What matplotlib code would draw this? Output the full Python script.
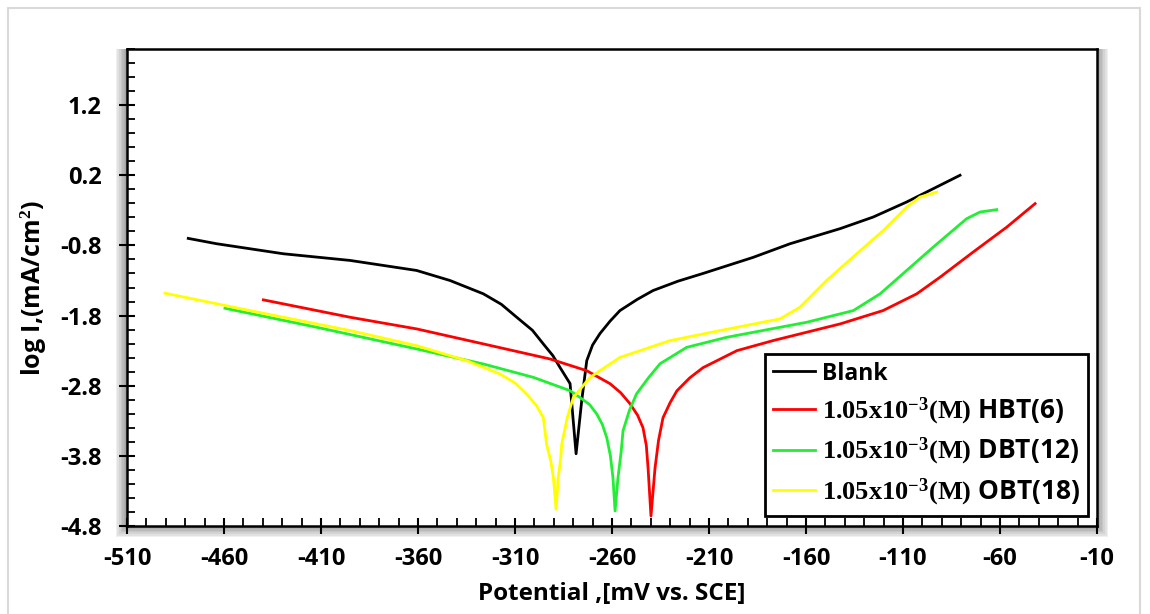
import matplotlib
matplotlib.use("Agg")
import matplotlib.pyplot as plt
from matplotlib.patches import Rectangle
from matplotlib.ticker import MultipleLocator

plt.rcParams['font.family'] = ['Open Sans', 'DejaVu Sans']
plt.rcParams['font.weight'] = 'bold'
plt.rcParams['axes.unicode_minus'] = False
plt.rcParams['mathtext.fontset'] = 'custom'
plt.rcParams['mathtext.rm'] = 'Liberation Serif'
plt.rcParams['mathtext.bf'] = 'Liberation Serif:bold'
plt.rcParams['mathtext.it'] = 'Liberation Serif:italic'

# potential (mV vs SCE) and log I (mA/cm2)
blank_e = [-478.4, -463.8, -429.4, -395.0, -360.7, -343.5, -326.3, -317.0, -309.1,
           -301.0, -295.4, -290.5, -286.8, -281.6, -280.1, -278.5, -275.6, -273.0,
           -270.0, -266.2, -261.0, -255.9, -247.0, -238.8, -226.0, -213.1, -187.3,
           -168.2, -142.4, -125.4, -108.1, -90.9, -80.6]
blank_i = [-0.70, -0.776, -0.919, -1.014, -1.157, -1.30, -1.49, -1.64, -1.824,
           -2.01, -2.204, -2.37, -2.539, -2.77, -3.257, -3.77, -3.014, -2.443,
           -2.22, -2.057, -1.88, -1.729, -1.57, -1.443, -1.31, -1.20, -0.971,
           -0.776, -0.561, -0.396, -0.181, 0.057, 0.20]

hbt_e = [-439.7, -395.0, -360.7, -326.3, -291.9, -273.0, -261.0, -255.5, -250.7,
         -246.8, -244.0, -242.3, -241.4, -239.9, -237.8, -236.0, -233.7, -230.0,
         -226.5, -220.0, -213.1, -195.6, -177.0, -142.4, -120.3, -102.9, -90.9,
         -73.9, -56.5, -41.9]
hbt_i = [-1.576, -1.824, -1.99, -2.204, -2.419, -2.586, -2.771, -2.90, -3.057,
         -3.22, -3.40, -3.65, -3.971, -4.657, -3.971, -3.58, -3.257, -3.04,
         -2.871, -2.69, -2.543, -2.30, -2.157, -1.919, -1.729, -1.49, -1.253,
         -0.896, -0.539, -0.204]

dbt_e = [-459.5, -412.2, -360.7, -326.3, -300.5, -281.6, -276.5, -271.5, -267.9,
         -265.0, -262.7, -260.8, -259.5, -258.4, -256.9, -255.3, -254.3, -251.0,
         -247.3, -241.0, -235.2, -221.5, -200.9, -173.4, -159.7, -135.6, -121.8,
         -108.1, -94.4, -77.2, -70.3, -61.7]
dbt_i = [-1.696, -1.967, -2.276, -2.49, -2.681, -2.871, -2.967, -3.07, -3.20,
         -3.35, -3.539, -3.80, -4.11, -4.586, -4.11, -3.75, -3.443, -3.15,
         -2.914, -2.68, -2.486, -2.253, -2.11, -1.967, -1.896, -1.729, -1.49,
         -1.157, -0.824, -0.419, -0.324, -0.29]

obt_e = [-490.4, -446.6, -395.0, -360.7, -334.9, -317.7, -310.0, -304.0, -299.0,
         -295.4, -293.7, -291.5, -290.2, -288.8, -287.7, -286.5, -285.9, -283.0,
         -279.9, -271.3, -255.9, -230.1, -204.3, -173.4, -163.1, -149.4, -133.9,
         -120.1, -108.1, -101.2, -92.6]
obt_i = [-1.481, -1.729, -2.014, -2.229, -2.443, -2.633, -2.76, -2.919, -3.08,
         -3.253, -3.633, -3.88, -4.11, -4.561, -4.11, -3.85, -3.633, -3.25,
         -2.967, -2.681, -2.396, -2.157, -2.014, -1.847, -1.681, -1.30, -0.919,
         -0.586, -0.253, -0.11, -0.039]

labels = ['Blank',
          r'$\mathbf{1.05x10^{-3}(M)}$ HBT(6)',
          r'$\mathbf{1.05x10^{-3}(M)}$ DBT(12)',
          r'$\mathbf{1.05x10^{-3}(M)}$ OBT(18)']
colors = ['black', '#ff0000', '#22ee33', '#ffff00']

fig = plt.figure(figsize=(11.5, 6.14), dpi=100)
ax = fig.add_axes([0.1104, 0.1433, 0.8435, 0.7769])
ax.set_facecolor('white')

# outer frame and soft shadow round the plot box
fig.patches.append(Rectangle((8 / 1150, -0.05), 1132 / 1150, 1 - 8 / 614 + 0.05,
                             transform=fig.transFigure, fill=False,
                             edgecolor='#d9d9d9', lw=1.5, zorder=-2))
for k in range(1, 8):
    pad = k * 1.6
    fig.patches.append(Rectangle(((127 - pad) / 1150, (88 - pad) / 614),
                                 (970 + 2 * pad) / 1150, (477 + pad) / 614,
                                 transform=fig.transFigure, facecolor='black',
                                 alpha=0.06, edgecolor='none', zorder=-1))

series = [(blank_e, blank_i), (hbt_e, hbt_i), (dbt_e, dbt_i), (obt_e, obt_i)]
for (e, i), c, lab in zip(series, colors, labels):
    ax.plot(e, i, color=c, lw=2.0, label=lab)

ax.set_xlim(-510, -10)
ax.set_ylim(-4.8, 2.0)
ax.set_xticks(range(-510, 0, 50))
ax.set_yticks([-4.8, -3.8, -2.8, -1.8, -0.8, 0.2, 1.2])
ax.xaxis.set_minor_locator(MultipleLocator(10))
ax.yaxis.set_minor_locator(MultipleLocator(0.2))
ax.tick_params(which='major', direction='inout', length=12, width=1.5,
               labelsize=17, top=False, right=False)
ax.tick_params(axis='x', which='major', pad=9)
ax.tick_params(axis='y', which='major', pad=12)
ax.tick_params(which='minor', direction='in', length=6, width=1.3,
               top=False, right=False)
for lab in ax.get_xticklabels() + ax.get_yticklabels():
    lab.set_fontweight('bold')
for s in ax.spines.values():
    s.set_linewidth(1.8)

ax.set_xlabel('Potential ,[mV vs. SCE]', fontsize=17.5, fontweight='bold', labelpad=8)
ax.set_ylabel('log I,(mA/cm$^2$)', fontsize=18, fontweight='bold', labelpad=8)

leg = ax.legend(loc='lower right', bbox_to_anchor=(0.9907, 0.021), fontsize=19,
                frameon=True, fancybox=False, framealpha=1, edgecolor='black',
                handlelength=1.6, handletextpad=0.25, labelspacing=0.35,
                borderpad=0.3, borderaxespad=0)
leg.get_frame().set_linewidth(2)
for t in leg.get_texts():
    t.set_fontweight('bold')
leg.get_texts()[0].set_fontsize(16.5)

fig.savefig('out.png', dpi=100)
